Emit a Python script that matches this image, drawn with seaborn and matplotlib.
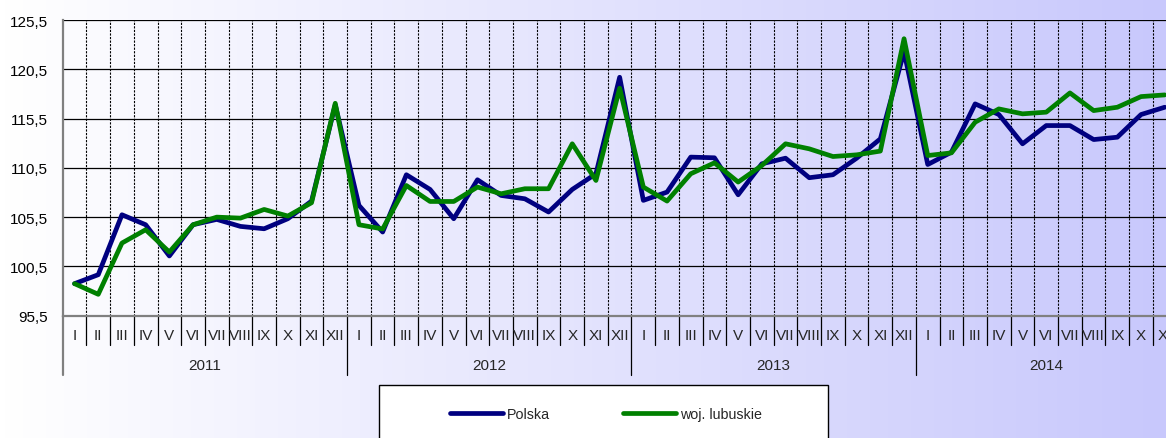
import numpy as np
import pandas as pd
import matplotlib
matplotlib.use("Agg")
import matplotlib.pyplot as plt
from matplotlib.patches import Rectangle
from matplotlib.transforms import blended_transform_factory
import seaborn as sns

# ---------------- data ----------------
years = ["2011", "2012", "2013", "2014"]
months_per_year = [12, 12, 12, 11]
month_names = ["I", "II", "III", "IV", "V", "VI", "VII", "VIII", "IX", "X", "XI", "XII"]

polska = [98.75, 99.66, 105.74, 104.73, 101.56, 104.73, 105.27, 104.56, 104.32, 105.34, 107.13, 116.9,
          106.69, 103.99, 109.8, 108.31, 105.34, 109.29, 107.7, 107.36, 106.02, 108.31, 109.9, 119.69,
          107.2, 108.04, 111.59, 111.52, 107.77, 110.91, 111.48, 109.5, 109.8, 111.48, 113.44, 122.3,
          110.84, 112.09, 116.99, 115.91, 112.94, 114.79, 114.79, 113.37, 113.61, 115.91, 116.65]
lubuskie = [98.75, 97.67, 102.87, 104.22, 101.96, 104.73, 105.5, 105.4, 106.28, 105.61, 106.96, 117.05,
            104.73, 104.3, 108.71, 107.09, 107.09, 108.55, 107.87, 108.38, 108.38, 112.94, 109.22, 118.58,
            108.55, 107.13, 109.9, 111.01, 109.06, 110.74, 112.94, 112.43, 111.65, 111.82, 112.2, 123.6,
            111.75, 112.02, 115.13, 116.48, 115.98, 116.15, 118.1, 116.31, 116.65, 117.73, 117.9]
series_names = ["Polska", "woj. lubuskie"]
series_colors = ["#000080", "#008000"]
y_ticks = [95.5, 100.5, 105.5, 110.5, 115.5, 120.5, 125.5]

# ---------------- build frame ----------------
n = len(polska)
month_labels = []
for ny in months_per_year:
    month_labels += month_names[:ny]
df = pd.DataFrame({
    "idx": list(range(n)) * 2,
    "value": polska + lubuskie,
    "series": [series_names[0]] * n + [series_names[1]] * n,
})

sns.set_style("white")
plt.rcParams["font.family"] = ["Liberation Sans", "DejaVu Sans"]

W, H = 1166, 439
fig = plt.figure(figsize=(W / 100, H / 100), dpi=100)

# gradient background
bg = fig.add_axes([0, 0, 1, 1], zorder=-10)
grad = np.linspace(0, 1, 256)
c0 = np.array([1.0, 1.0, 1.0])
c1 = np.array([200, 200, 252]) / 255.0
img = c0[None, :] + (c1 - c0)[None, :] * grad[:, None]
bg.imshow(img[None, :, :], aspect="auto", extent=[0, 1, 0, 1])
bg.set_axis_off()

# main axes geometry (pixels)
x0, month_w = 62.7, 23.7
y_top, y_bot = 21.0, 316.7
ax_w = n * month_w
ax = fig.add_axes([x0 / W, 1 - y_bot / H, ax_w / W, (y_bot - y_top) / H])
ax.set_facecolor("none")

sns.lineplot(data=df, x="idx", y="value", hue="series", palette=series_colors,
             hue_order=series_names, linewidth=3.4, ax=ax, legend=False,
             solid_capstyle="round", solid_joinstyle="round", zorder=5)

ax.set_xlim(-0.5, n - 0.5)
ax.set_ylim(95.5, 125.5)
ax.set_yticks(y_ticks)
ax.set_yticklabels([f"{v:.1f}".replace(".", ",") for v in y_ticks], fontsize=11)
ax.set_xticks([])
ax.set_xlabel("")
ax.set_ylabel("")

# horizontal grid
for v in y_ticks[1:]:
    ax.axhline(v, color="black", lw=0.9, zorder=2)
# vertical dashed grid at month boundaries
for k in range(1, n):
    ax.axvline(k - 0.5, color="black", lw=0.8, ls=(0, (2.0, 1.2)), zorder=2)

for s in ["top", "right"]:
    ax.spines[s].set_visible(False)
for s in ["left", "bottom"]:
    ax.spines[s].set_color("#808080")
    ax.spines[s].set_linewidth(1.6)
ax.tick_params(axis="y", length=3.4, width=1.2, color="#808080", pad=7.5, labelcolor="black")

# category axis: month separators, labels, years
trans = blended_transform_factory(ax.transData, ax.transAxes)
axh = y_bot - y_top
m_depth = -(346.0 - y_bot) / axh
y_depth = -(375.7 - y_bot) / axh
m_lab_y = -(335.7 - y_bot) / axh
y_lab_y = -(366.0 - y_bot) / axh

year_starts = np.cumsum([0] + months_per_year)
for k in range(n + 1):
    is_year = k in year_starts
    depth = y_depth if is_year else m_depth
    col = "#808080" if k == 0 else "black"
    lw = 1.6 if k == 0 else 0.9
    ax.plot([k - 0.5, k - 0.5], [0, depth], color=col, lw=lw, transform=trans, clip_on=False)
for i, lab in enumerate(month_labels):
    ax.text(i, m_lab_y, lab, transform=trans, ha="center", va="center", fontsize=11)
for j, yr in enumerate(years):
    cx = (year_starts[j] + year_starts[j + 1]) / 2 - 0.5
    ax.text(cx, y_lab_y, yr, transform=trans, ha="center", va="center", fontsize=11)

# legend box
lx0, lx1, ly_top = 379.0, 828.0, 385.7
fig.patches.append(Rectangle((lx0 / W, -0.2), (lx1 - lx0) / W, 0.2 + 1 - ly_top / H,
                             transform=fig.transFigure, facecolor="white",
                             edgecolor="black", lw=1.0, zorder=1))
handles = [plt.Line2D([], [], color=c, lw=3.4, solid_capstyle="round") for c in series_colors]
fig.legend(handles, series_names, loc="center left",
           bbox_to_anchor=(449.7 / W, 1 - 415.0 / H), bbox_transform=fig.transFigure,
           ncol=2, frameon=False, fontsize=10.3, handlelength=3.7, handletextpad=0.3,
           columnspacing=5.1, borderpad=0, borderaxespad=0)

fig.savefig("out.png", dpi=100)
